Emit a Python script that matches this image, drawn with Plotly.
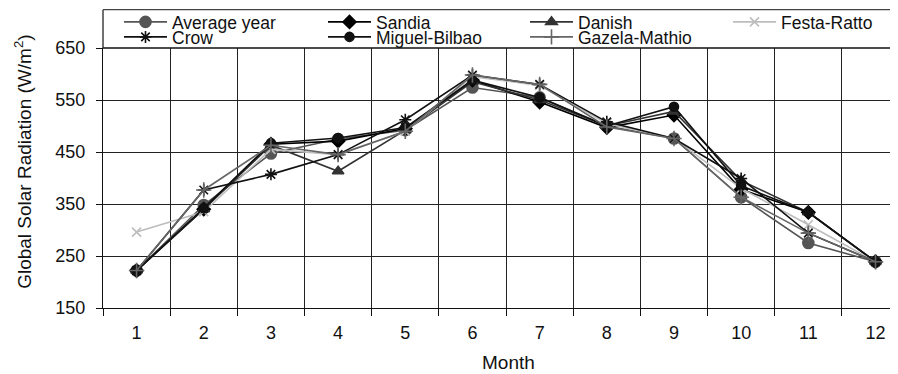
import plotly.graph_objects as go

months = list(range(1, 13))
y_ticks = [150, 250, 350, 450, 550, 650]

average_year = [222, 348, 447, 475, 492, 574, 555, 500, 476, 363, 275, 239]
sandia = [222, 340, 465, 471, 495, 588, 546, 497, 521, 378, 334, 239]
danish = [222, 340, 463, 413, 492, 585, 550, 500, 528, 395, 334, 239]
festa_ratto = [296, 335, 455, 445, 490, 595, 578, 505, 476, 380, 310, 239]
crow = [222, 377, 407, 445, 512, 598, 580, 508, 476, 399, 294, 239]
miguel_bilbao = [222, 342, 467, 477, 497, 588, 555, 500, 537, 385, 334, 239]
gazela_mathio = [222, 377, 463, 445, 490, 598, 580, 498, 476, 363, 294, 239]

series = [
    ("Average year", average_year, "#555555", "circle", 11),
    ("Sandia", sandia, "#000000", "diamond", 10),
    ("Danish", danish, "#333333", "triangle-up", 10),
    ("Festa-Ratto", festa_ratto, "#bdbdbd", "x-thin-open", 9),
    ("Crow", crow, "#111111", "asterisk-open", 10),
    ("Miguel-Bilbao", miguel_bilbao, "#111111", "circle", 9),
    ("Gazela-Mathio", gazela_mathio, "#666666", "cross-thin-open", 11),
]

# page body has an 8px margin: figure pixel = screen pixel - 8
OFF = 8
W, H = 898 - OFF, 374 - OFF
L = 102.7 - OFF
T = 47.7 - OFF
B = H - (308.3 - OFF)
R = 0
pw = W - L - R
ph = H - T - B

def px(sx):
    return (sx - OFF - L) / pw

def py(sy):
    return (H - B - (sy - OFF)) / ph

# legend placement (one legend per entry), container coordinates (screen px)
leg_cols = [119, 323, 525, 728]
leg_rows = [22, 37]
legend_slots = [(0, 0), (1, 0), (2, 0), (3, 0), (0, 1), (1, 1), (2, 1)]

fig = go.Figure()
layout_legends = {}
for i, (name, vals, color, sym, size) in enumerate(series):
    lid = "legend" if i == 0 else f"legend{i+1}"
    fig.add_trace(go.Scatter(
        x=months, y=vals, name=name, mode="lines+markers",
        line=dict(color=color, width=1.6),
        marker=dict(symbol=sym, size=size, color=color,
                    line=dict(color=color, width=1.6)),
        legend=lid,
    ))
    c, r = legend_slots[i]
    layout_legends[lid] = dict(
        x=(leg_cols[c] - OFF) / W, y=1 - (leg_rows[r] - OFF) / H,
        xref="container", yref="container",
        xanchor="left", yanchor="middle",
        bgcolor="rgba(0,0,0,0)", borderwidth=0,
        font=dict(family="Liberation Sans, Arial, sans-serif", size=17.5, color="#111"),
        itemwidth=43,
    )

x_right = 0.5 + pw / 67.2

fig.update_layout(
    width=W, height=H,
    margin=dict(l=L, r=R, t=T, b=B, pad=0, autoexpand=False),
    paper_bgcolor="white", plot_bgcolor="white",
    font=dict(family="Liberation Sans, Arial, sans-serif", size=18, color="#111"),
    showlegend=True,
    xaxis=dict(
        range=[0.5, x_right], tickvals=months, ticktext=[str(m) for m in months],
        ticks="", showgrid=False, showline=True, linecolor="#111", linewidth=1.2,
        zeroline=False, tickfont=dict(size=18), ticklabelstandoff=8, automargin=False,
        minor=dict(tickvals=[m - 0.5 for m in months] + [12.5], ticks="outside",
                   ticklen=7, tickcolor="#111", tickwidth=1,
                   showgrid=True, gridcolor="#222", gridwidth=1),
    ),
    yaxis=dict(
        range=[150, 650], tickvals=y_ticks, ticks="outside", ticklen=6,
        tickcolor="#111", showgrid=True, gridcolor="#222", gridwidth=1,
        showline=True, linecolor="#111", linewidth=1.2, zeroline=False,
        tickfont=dict(size=18), ticklabelstandoff=7, automargin=False,
    ),
    annotations=[
        dict(text="Month", xref="paper", yref="paper", x=px(508), y=py(363),
             xanchor="center", yanchor="middle", showarrow=False,
             font=dict(size=19)),
        dict(text="Global Solar Radiation (W/m<sup>2</sup>)", xref="paper", yref="paper",
             x=px(22.5), y=py(161), xanchor="center", yanchor="middle",
             textangle=-90, showarrow=False, font=dict(size=19)),
    ],
    shapes=[
        dict(type="line", xref="paper", yref="paper", x0=0, x1=0, y0=1, y1=py(9.3),
             line=dict(color="#111", width=1.2)),
        dict(type="line", xref="paper", yref="paper", x0=0, x1=1, y0=py(9.3), y1=py(9.3),
             line=dict(color="#444", width=1.2)),
        dict(type="line", xref="paper", yref="paper", x0=0, x1=1, y0=1, y1=1,
             line=dict(color="#111", width=1.4)),
    ],
    **layout_legends,
)

fig.write_html("out.html")
